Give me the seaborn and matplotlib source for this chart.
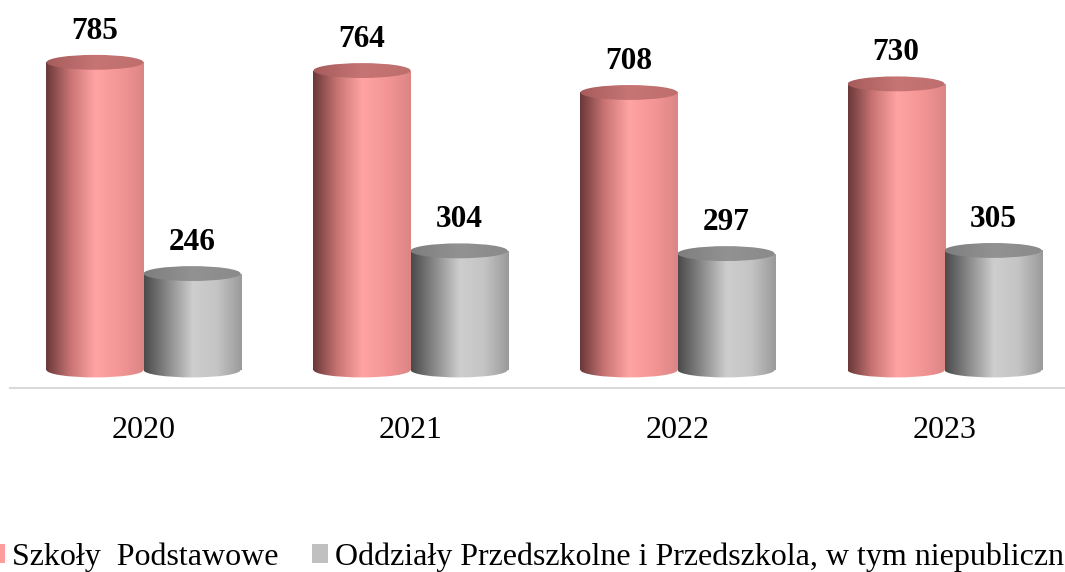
import numpy as np
import pandas as pd
import matplotlib
matplotlib.use("Agg")
import matplotlib.pyplot as plt
import seaborn as sns
from matplotlib.colors import LinearSegmentedColormap
from matplotlib.patches import Ellipse, Patch

years = ["2020", "2021", "2022", "2023"]
szkoly = [785, 764, 708, 730]
oddzialy = [246, 304, 297, 305]
# second label is cut short in the source picture
series_names = ["Szkoły  Podstawowe",
                "Oddziały Przedszkolne i Przedszkola, w tym niepubliczn"]

df = pd.DataFrame({
    "rok": years * 2,
    "liczba": szkoly + oddzialy,
    "typ": [series_names[0]] * 4 + [series_names[1]] * 4,
})

flat = ["#ff9c9c", "#c0c0c0"]
side_cmaps = [
    LinearSegmentedColormap.from_list("pink", ["#6a3838", "#c97474", "#ffa3a3", "#f59696", "#dc8585"]),
    LinearSegmentedColormap.from_list("grey", ["#4a4a4a", "#8c8c8c", "#cecece", "#c4c4c4", "#9a9a9a"]),
]
top_cmaps = [
    LinearSegmentedColormap.from_list("pink_top", ["#a65c5c", "#c67474", "#bf6e6e"]),
    LinearSegmentedColormap.from_list("grey_top", ["#7e7e7e", "#929292", "#8a8a8a"]),
]

sns.set_theme(style="white")
plt.rcParams["font.family"] = ["Liberation Serif", "DejaVu Serif"]

fig = plt.figure(figsize=(10.65, 5.72), dpi=100)
ax = fig.add_axes([10 / 1065, 184 / 572, 1055 / 1065, 388 / 572])

sns.barplot(data=df, x="rok", y="liczba", hue="typ", palette=flat,
            width=0.727, gap=0, legend=False, ax=ax)

eh = 38  # ellipse height in data units
grad = np.linspace(0, 1, 256).reshape(1, -1)

for k, cont in enumerate(ax.containers):
    for bar in cont:
        x0, w, h = bar.get_x(), bar.get_width(), bar.get_height()
        bar.set_facecolor("none")
        bar.set_edgecolor("none")
        cx = x0 + w / 2
        # cylinder body
        im = ax.imshow(grad, cmap=side_cmaps[k], extent=[x0, x0 + w, 0, h],
                       aspect="auto", interpolation="bicubic", zorder=2)
        im.set_clip_path(bar)
        bottom = Ellipse((cx, 0), w, eh, transform=ax.transData)
        im2 = ax.imshow(grad, cmap=side_cmaps[k], extent=[x0, x0 + w, -eh, 0],
                        aspect="auto", interpolation="bicubic", zorder=2)
        im2.set_clip_path(bottom)
        # top cap
        top = Ellipse((cx, h), w, eh, transform=ax.transData)
        im3 = ax.imshow(grad, cmap=top_cmaps[k], extent=[x0, x0 + w, h - eh, h + eh],
                        aspect="auto", interpolation="bicubic", zorder=3)
        im3.set_clip_path(top)
        ax.annotate(f"{h:.0f}", (cx, h), xytext=(0, 17), textcoords="offset points",
                    ha="center", va="baseline", fontsize=22.5, fontweight="bold",
                    color="black", zorder=5)

ax.set_xlim(-0.5, 3.451)
ax.set_ylim(-46, 944)
ax.set_xlabel("")
ax.set_ylabel("")
ax.set_yticks([])
for side in ["top", "left", "right"]:
    ax.spines[side].set_visible(False)
ax.spines["bottom"].set_color("#d9d9d9")
ax.spines["bottom"].set_linewidth(1.5)
ax.tick_params(axis="x", length=0, pad=20, labelsize=23, labelcolor="black")

handles = [Patch(facecolor=c, edgecolor="none") for c in flat]
fig.legend(handles, series_names, loc="lower left", bbox_to_anchor=(-0.0223, -0.022),
           ncol=2, frameon=False, fontsize=23, handlelength=0.5, handleheight=0.5,
           handletextpad=0.22, columnspacing=1.05, borderaxespad=0, labelcolor="black")

plt.savefig("out.png", dpi=100)
